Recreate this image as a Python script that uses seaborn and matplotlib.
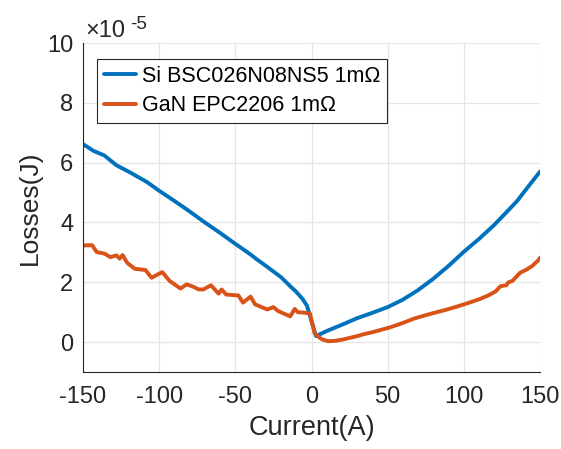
import numpy as np
import pandas as pd
import matplotlib
matplotlib.use("Agg")
import matplotlib.pyplot as plt
import seaborn as sns

# ---- data (losses in units of 1e-5 J) ----
si_current = [-150, -143, -136, -128, -119, -108, -100, -90, -82, -70, -60, -51, -40,
              -36, -30, -20, -14, -10, -6, -3, 0, 3, 10, 20, 30, 40, 50, 60, 70, 80,
              90, 100, 110, 120, 130, 135, 140, 150]
si_loss = [6.62, 6.39, 6.24, 5.91, 5.67, 5.35, 5.06, 4.72, 4.44, 4.0, 3.65, 3.32, 2.93,
           2.77, 2.55, 2.17, 1.87, 1.68, 1.45, 1.22, 0.7, 0.2, 0.37, 0.58, 0.8, 0.98, 1.17,
           1.42, 1.74, 2.12, 2.55, 3.02, 3.45, 3.92, 4.45, 4.72, 5.05, 5.7]

gan_current = [-150, -144, -141, -136, -132, -128, -126, -124, -121, -116, -109, -105,
               -98, -93, -86, -82, -78, -74, -71, -66, -61, -59, -56, -48, -45, -40, -37,
               -29, -25, -22, -14, -11, -9, -4, -1, 2, 5, 7, 11, 15, 21, 30, 34, 40, 45,
               52, 60, 67, 75, 80, 89, 95, 100, 106, 111, 116, 121, 124, 128, 129, 132,
               137, 141, 145, 149, 150]
gan_loss = [3.23, 3.24, 3.01, 2.96, 2.84, 2.90, 2.79, 2.91, 2.65, 2.45, 2.41, 2.15,
            2.34, 2.04, 1.79, 1.93, 1.86, 1.76, 1.76, 1.90, 1.62, 1.76, 1.59, 1.56, 1.32,
            1.52, 1.26, 1.09, 1.17, 1.04, 0.86, 1.11, 1.0, 0.98, 0.95, 0.30, 0.16, 0.09,
            0.03, 0.04, 0.09, 0.2, 0.26, 0.33, 0.40, 0.50, 0.64, 0.78, 0.90, 0.97, 1.09,
            1.18, 1.26, 1.36, 1.45, 1.56, 1.70, 1.87, 1.90, 1.99, 2.05, 2.32, 2.42, 2.55,
            2.74, 2.82]

series_names = ["Si BSC026N08NS5 1m\u03a9", "GaN EPC2206 1m\u03a9"]
colors = ["#0072BD", "#D95319"]
x_ticks = [-150, -100, -50, 0, 50, 100, 150]
y_ticks = [0, 2, 4, 6, 8, 10]

df = pd.concat([
    pd.DataFrame({"Current": si_current, "Loss": si_loss, "Device": series_names[0]}),
    pd.DataFrame({"Current": gan_current, "Loss": gan_loss, "Device": series_names[1]}),
], ignore_index=True)

sns.set_theme(style="white")
plt.rcParams["font.family"] = ["Liberation Sans", "DejaVu Sans"]

fig = plt.figure(figsize=(5.61, 4.49), dpi=100)
ax = fig.add_axes([83 / 561, 1 - 372 / 449, 457 / 561, 329 / 449])

sns.lineplot(data=df, x="Current", y="Loss", hue="Device",
             palette=dict(zip(series_names, colors)), linewidth=2.8,
             sort=False, estimator=None, ax=ax)

ax.set_xlim(-150, 150)
ax.set_ylim(-1, 10)
ax.set_xticks(x_ticks)
ax.set_yticks(y_ticks)
ax.set_xticklabels([str(t) for t in x_ticks])
ax.set_yticklabels([str(t) for t in y_ticks])
ax.grid(True, color="#e5e5e5", linewidth=0.9)
ax.set_axisbelow(True)

for s in ["top", "right"]:
    ax.spines[s].set_visible(False)
for s in ["left", "bottom"]:
    ax.spines[s].set_color("#262626")
    ax.spines[s].set_linewidth(0.8)

ax.tick_params(axis="both", direction="in", length=4, width=0.8, color="#262626",
               labelsize=17, labelcolor="#262626")
ax.tick_params(axis="x", pad=10)
ax.tick_params(axis="y", pad=7)
ax.set_xlabel("Current(A)", fontsize=19.5, color="#262626", labelpad=5)
ax.set_ylabel("Losses(J)", fontsize=19, color="#262626", labelpad=4)

# exponent label
fig.text(85 / 561, 1 - 37 / 449, "\u00d710", fontsize=17, color="#262626",
         ha="left", va="baseline")
fig.text(130 / 561, 1 - 29 / 449, "-5", fontsize=13.5, color="#262626",
         ha="left", va="baseline")

leg = ax.legend(loc="upper left", bbox_to_anchor=(0.031, 0.951), fontsize=15.5,
                frameon=True, fancybox=False, framealpha=1, edgecolor="#262626",
                handlelength=1.5, handletextpad=0.3, borderpad=0.3,
                labelspacing=0.4, borderaxespad=0)
leg.get_frame().set_linewidth(0.8)
for line in leg.get_lines():
    line.set_linewidth(2.8)
for t in leg.get_texts():
    t.set_color("black")

fig.savefig("out.png", dpi=100)
